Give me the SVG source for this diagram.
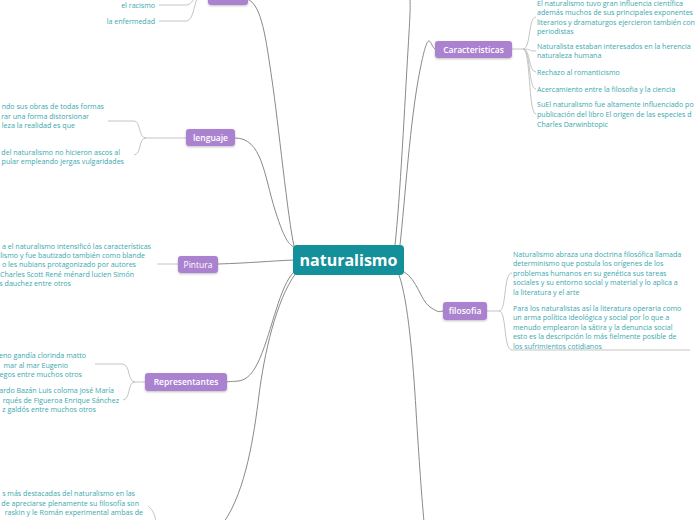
<svg xmlns="http://www.w3.org/2000/svg" width="697" height="520" viewBox="0 0 697 520">
<style>
.bg{fill:#ffffff}
.main{fill:none;stroke:#8a8a8a;stroke-width:1}
.leafc{fill:none;stroke:#c4c4c4;stroke-width:1}
.node{fill:#ab82cf}
.nt{font-family:"Open Sans","Noto Sans",sans-serif;font-size:8.5px;font-weight:600;fill:#ffffff;text-anchor:middle}
.ntn{font-weight:400}
.lt{font-family:"Open Sans","Noto Sans",sans-serif;font-size:7.1px;fill:#3aa8ae}
.le{text-anchor:end}
</style>
<defs>
<filter id="sh" x="-20%" y="-30%" width="140%" height="180%">
<feDropShadow dx="0" dy="1" stdDeviation="0.8" flood-color="#000" flood-opacity="0.25"/>
</filter>
</defs>
<rect class="bg" x="0" y="0" width="697" height="520"/>
<g id="connectors">
<path class="main" d="M247 -1 C262 4 266 40 272 80 S288 220 294 246"/>
<path class="main" d="M235 138 C262 138 264 175 275 210 S290 244 295 248"/>
<path class="main" d="M218 264 C250 263 270 261 294 260"/>
<path class="main" d="M294 272 C280 285 272 330 260 358 S238 380 226 382"/>
<path class="main" d="M296 273 C276 300 264 355 259 395 S246 490 224 522"/>
<path class="main" d="M399 275 C408 300 413 360 416 410 S422 500 424 522"/>
<path class="main" d="M403 271 C418 280 420 300 430 307 S440 311 443 311"/>
<path class="main" d="M395 245 C400 200 405 100 408 50 S410 10 410 -5"/>
<path class="main" d="M400 245 C405 200 410 120 420 70 S430 50 436 49"/>
<path class="leafc" d="M208 -4 L200 -4 C193 -4 193 5 186 5 L159 5"/>
<path class="leafc" d="M200 -4 C194 -4 195 21 186 21 L159 21"/>
<path class="leafc" d="M512 49 L523 49 C531 49 528 17 536 17"/>
<path class="leafc" d="M523 49 C531 49 528 51 536 51"/>
<path class="leafc" d="M523 49 C531 49 528 72 536 72"/>
<path class="leafc" d="M523 49 C531 49 528 89 536 89"/>
<path class="leafc" d="M523 49 C531 49 528 114 536 114"/>
<path class="leafc" d="M186 138 L146 138 C138 138 141 121 134 121 L108 121"/>
<path class="leafc" d="M146 138 C138 138 142 154 134 155"/>
<path class="leafc" d="M178 264 L157 264"/>
<path class="leafc" d="M145 382 L135 382 C127 382 131 364 122 364 L95 364"/>
<path class="leafc" d="M135 382 C127 382 131 399 123 400"/>
<path class="leafc" d="M148 506 C153 510 155 515 156 522"/>
<path class="leafc" d="M487 311 L499 311 C507 311 503 273 512 273"/>
<path class="leafc" d="M499 311 C507 311 503 350 512 350 L690 350"/>
</g>
<g id="n-top">
<rect class="node" x="208" y="-14" width="40" height="19" rx="3" filter="url(#sh)"/>
<text class="lt le" x="155" y="8">el racismo</text>
<text class="lt le" x="155" y="24">la enfermedad</text>
</g>
<g id="n-center">
<rect x="293" y="245" width="111" height="30" rx="4" fill="#13909a"/>
<text x="348.5" y="266" font-family="'Open Sans','Noto Sans',sans-serif" font-size="16" font-weight="700" fill="#ffffff" text-anchor="middle">naturalismo</text>
</g>
<g id="n-caracteristicas">
<rect class="node" x="435" y="41" width="77" height="17" rx="3" filter="url(#sh)"/>
<text class="nt" x="473.5" y="52.5">Caracteristicas</text>
<text class="lt" x="537" y="5.5">El naturalismo tuvo gran influencia científica</text>
<text class="lt" x="537" y="15">además muchos de sus principales exponentes</text>
<text class="lt" x="537" y="24.5">literarios y dramaturgos ejercieron también con</text>
<text class="lt" x="537" y="34">periodistas</text>
<text class="lt" x="537" y="48.5">Naturalista estaban interesados en la herencia</text>
<text class="lt" x="537" y="58">naturaleza humana</text>
<text class="lt" x="537" y="74.5">Rechazo al romanticismo</text>
<text class="lt" x="537" y="91.5">Acercamiento entre la filosofia y la ciencia</text>
<text class="lt" x="537" y="106.5">SuEl naturalismo fue altamente influenciado po</text>
<text class="lt" x="537" y="116.5">publicación del libro El origen de las especies d</text>
<text class="lt" x="537" y="126.5">Charles Darwinbtopic</text>
</g>
<g id="n-lenguaje">
<rect class="node" x="186" y="129" width="49" height="17" rx="3" filter="url(#sh)"/>
<text class="nt" x="210.5" y="140.5">lenguaje</text>
<text class="lt le" x="104" y="108.5">ndo sus obras de todas formas</text>
<text class="lt le" x="89" y="118.5">rar una forma distorsionar</text>
<text class="lt le" x="75" y="127.5">leza la realidad es que</text>
<text class="lt le" x="120" y="154.5">del naturalismo no hicieron ascos al</text>
<text class="lt le" x="124" y="163.5">pular empleando jergas vulgaridades</text>
</g>
<g id="n-pintura">
<rect class="node" x="178" y="256" width="40" height="17" rx="3" filter="url(#sh)"/>
<text class="nt ntn" x="198" y="267.5">Pintura</text>
<text class="lt le" x="151" y="248.5">a el naturalismo intensificó las características</text>
<text class="lt le" x="145" y="257.5">alismo y fue bautizado también como blande</text>
<text class="lt le" x="136" y="266.5">o les nubians protagonizado por autores</text>
<text class="lt le" x="134" y="276.5">Charles Scott René ménard lucien Simón</text>
<text class="lt le" x="71" y="285.5">s dauchez entre otros</text>
</g>
<g id="n-representantes">
<rect class="node" x="145" y="373" width="82" height="18" rx="3" filter="url(#sh)"/>
<text class="nt" x="186" y="385">Representantes</text>
<text class="lt le" x="86" y="357.5">eno gandía clorinda matto</text>
<text class="lt le" x="68" y="367.5">mar al mar Eugenio</text>
<text class="lt le" x="82" y="376.5">egos entre muchos otros</text>
<text class="lt le" x="114" y="392.5">ardo Bazán Luis coloma José María</text>
<text class="lt le" x="119" y="402.5">rqués de Figueroa Enrique Sánchez</text>
<text class="lt le" x="96" y="411.5">z galdós entre muchos otros</text>
</g>
<g id="n-bottom-left">
<text class="lt le" x="135" y="496">s más destacadas del naturalismo en las</text>
<text class="lt le" x="139" y="505.5">de apreciarse plenamente su filosofía son</text>
<text class="lt le" x="143" y="515">raskin y le Román experimental ambas de</text>
</g>
<g id="n-filosofia">
<rect class="node" x="443" y="302" width="44" height="18" rx="3" filter="url(#sh)"/>
<text class="nt" x="465" y="314">filosofia</text>
<text class="lt" x="513" y="256.5">Naturalismo abraza una doctrina filosófica llamada</text>
<text class="lt" x="513" y="266">determinismo que postula los orígenes de los</text>
<text class="lt" x="513" y="275.5">problemas humanos en su genética sus tareas</text>
<text class="lt" x="513" y="285">sociales y su entorno social y material y lo aplica a</text>
<text class="lt" x="513" y="294.5">la literatura y el arte</text>
<text class="lt" x="513" y="310.5">Para los naturalistas así la literatura operaria como</text>
<text class="lt" x="513" y="320">un arma política ideológica y social por lo que a</text>
<text class="lt" x="513" y="329.5">menudo emplearon la sátira y la denuncia social</text>
<text class="lt" x="513" y="339">esto es la descripción lo más fielmente posible de</text>
<text class="lt" x="513" y="348.5">los sufrimientos cotidianos</text>
</g>
</svg>
